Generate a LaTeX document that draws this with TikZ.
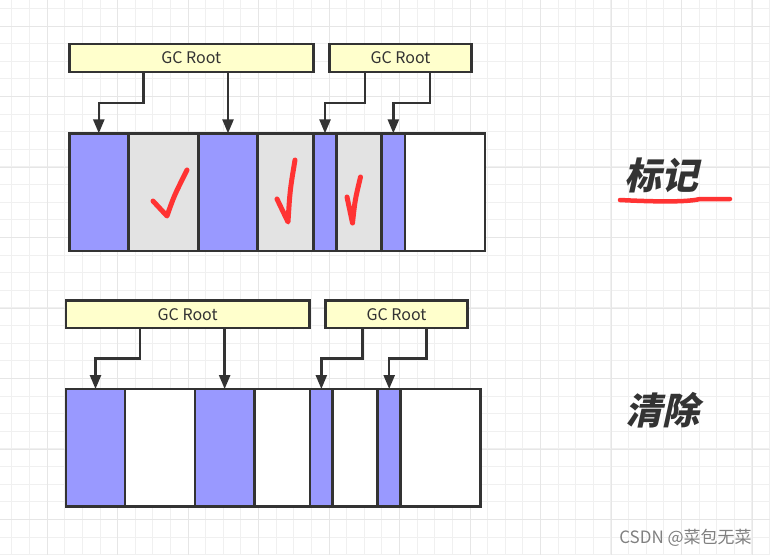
\documentclass[tikz,border=0pt]{standalone}
\usepackage{fontspec}
\setmainfont{Noto Sans CJK SC}
\newfontfamily\cjkslant[UprightFeatures={FakeSlant=0.22},BoldFeatures={FakeSlant=0.22}]{Noto Sans CJK SC}
\usetikzlibrary{arrows.meta}

\definecolor{liveblue}{HTML}{9999FF}
\definecolor{markgray}{HTML}{E3E3E3}
\definecolor{rootyellow}{HTML}{FFFFCC}
\definecolor{edgegray}{HTML}{333333}
\definecolor{tickred}{HTML}{FF3333}
\definecolor{minorgrid}{HTML}{F0F0F0}
\definecolor{majorgrid}{HTML}{E6E6E6}

\begin{document}
\begin{tikzpicture}[x=1pt,y=-1pt,
  cell/.style={draw=edgegray,line width=2.5pt,inner sep=0pt,outer sep=0pt,minimum height=117.7pt},
  root/.style={draw=edgegray,line width=2.5pt,fill=rootyellow,inner sep=0pt,outer sep=0pt,minimum height=27.6pt,text=edgegray,font=\fontsize{16}{18}\selectfont},
  ref/.style={draw=edgegray,line width=2.5pt,-{Triangle[length=14pt,width=11pt]}},
  tick/.style={draw=tickred,line width=5pt,line cap=round,line join=round},
  title/.style={font=\cjkslant\bfseries\fontsize{37}{40}\selectfont,text=edgegray}]
\useasboundingbox[fill=white] (0,0) rectangle (770,555);
% background grid
\foreach \i in {0,...,43} \draw[minorgrid,line width=1pt] ({11.9+17.62*\i},0) -- ({11.9+17.62*\i},555);
\foreach \i in {0,...,31} \draw[minorgrid,line width=1pt] (0,{8.4+17.62*\i}) -- (770,{8.4+17.62*\i});
\foreach \i in {0,...,10} \draw[majorgrid,line width=1pt] ({47.2+70.5*\i},0) -- ({47.2+70.5*\i},555);
\foreach \i in {0,...,7} \draw[majorgrid,line width=1pt] (0,{26+70.5*\i}) -- (770,{26+70.5*\i});

% mark phase
\node[root,minimum width=244pt] (r1) at (191.3,58) {GC Root};
\node[root,minimum width=142.4pt] (r2) at (400.5,58) {GC Root};
\node[cell,fill=liveblue,minimum width=59pt] (m1) at (98.8,192.2) {};
\node[cell,fill=markgray,minimum width=70pt] (m2) at (163.3,192.2) {};
\node[cell,fill=liveblue,minimum width=59.4pt] (m3) at (228,192.2) {};
\node[cell,fill=markgray,minimum width=55.6pt] (m4) at (285.5,192.2) {};
\node[cell,fill=liveblue,minimum width=23.4pt] (m5) at (325,192.2) {};
\node[cell,fill=markgray,minimum width=45pt] (m6) at (359.2,192.2) {};
\node[cell,fill=liveblue,minimum width=23.3pt] (m7) at (393.35,192.2) {};
\node[cell,fill=white,minimum width=80pt] (m8) at (445,192.2) {};
\draw[ref] ([xshift=-48pt]r1.south) -- ++(0,31) -| (m1);
\draw[ref] (r1.south -| m3.north) -- (m3.north);
\draw[ref] ([xshift=-35.5pt]r2.south) -- ++(0,31) -| (m5);
\draw[ref] ([xshift=29.5pt]r2.south) -- ++(0,31) -| (m7);
\draw[tick] (153,201) -- (167,216) .. controls (174,196) .. (187,170);
\draw[tick] (277,199) -- (288,222) .. controls (290,190) .. (295,160);
\draw[tick] (347,197) -- (352.5,223) .. controls (355,200) .. (360.5,177);
\node[title] (mark) at (661,175) {标记};
\draw[tick,line width=4.5pt] (620,200) .. controls (660,202) and (688,202) .. (700,199) -- (730,199);

% sweep phase
\node[root,minimum width=243.3pt] (s1) at (187.65,314.15) {GC Root};
\node[root,minimum width=141.6pt] (s2) at (396.5,314.15) {GC Root};
\node[cell,fill=liveblue,minimum width=59pt] (n1) at (95.5,447.85) {};
\node[cell,fill=white,minimum width=70pt] (n2) at (160,447.85) {};
\node[cell,fill=liveblue,minimum width=59.3pt] (n3) at (224.65,447.85) {};
\node[cell,fill=white,minimum width=55.7pt] (n4) at (282.15,447.85) {};
\node[cell,fill=liveblue,minimum width=22.7pt] (n5) at (321.35,447.85) {};
\node[cell,fill=white,minimum width=45pt] (n6) at (355.2,447.85) {};
\node[cell,fill=liveblue,minimum width=23pt] (n7) at (389.2,447.85) {};
\node[cell,fill=white,minimum width=80pt] (n8) at (440.7,447.85) {};
\draw[ref] ([xshift=-47.65pt]s1.south) -- ++(0,30.7) -| (n1);
\draw[ref] (s1.south -| n3.north) -- (n3.north);
\draw[ref] ([xshift=-33.8pt]s2.south) -- ++(0,30.7) -| (n5);
\draw[ref] ([xshift=30.2pt]s2.south) -- ++(0,30.7) -| (n7);
\node[title] (sweep) at (662,410) {清除};

\node[text=black!50,font=\fontsize{17}{19}\selectfont] (wm) at (685.5,538) {CSDN @菜包无菜};
\end{tikzpicture}
\end{document}
